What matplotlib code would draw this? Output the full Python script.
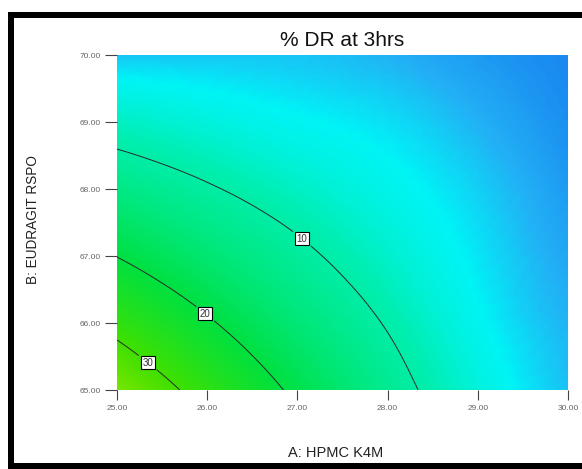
import matplotlib
matplotlib.use("Agg")
import matplotlib.pyplot as plt
import matplotlib.tri as mtri
from matplotlib.colors import LinearSegmentedColormap, Normalize
from matplotlib.lines import Line2D
from matplotlib.ticker import FormatStrFormatter
import numpy as np

# ---- data ----
A_hpmc = [25.0, 26.0, 27.0, 28.0, 29.0, 30.0]          # x factor
B_eudragit = [65.0, 66.0, 67.0, 68.0, 69.0, 70.0]      # y factor
# % DR at 3 hrs, rows follow B_eudragit, columns follow A_hpmc
dr_B65 = [36.97, 27.14, 18.84, 12.04, 6.76, 4.00]
dr_B66 = [27.77, 20.70, 14.67, 9.67, 5.71, 3.70]
dr_B67 = [19.89, 15.13, 11.02, 7.56, 5.00, 3.20]
dr_B68 = [13.32, 10.43, 7.95, 6.00, 4.40, 2.70]
dr_B69 = [8.07, 6.70, 5.60, 4.80, 3.60, 2.20]
dr_B70 = [4.12, 4.20, 4.10, 3.60, 2.70, 1.90]
contour_levels = [10, 20, 30]
x_ticks = [25.0, 26.0, 27.0, 28.0, 29.0, 30.0]
y_ticks = [65.0, 66.0, 67.0, 68.0, 69.0, 70.0]

plt.rcParams['font.family'] = ['Liberation Sans', 'DejaVu Sans']

W, H = 582, 469
fig = plt.figure(figsize=(W / 100, H / 100), dpi=100)
fig.patch.set_facecolor('white')

ax = fig.add_axes([117 / W, 1 - 390 / H, (568 - 117) / W, (390 - 55) / H])

Z = np.array([dr_B65, dr_B66, dr_B67, dr_B68, dr_B69, dr_B70])
AA, BB = np.meshgrid(A_hpmc, B_eudragit)
tri = mtri.Triangulation(AA.ravel(), BB.ravel())
interp = mtri.CubicTriInterpolator(tri, Z.ravel(), kind='min_E')
refiner = mtri.UniformTriRefiner(tri)
tri_f, z_f = refiner.refine_field(Z.ravel(), triinterpolator=interp, subdiv=4)

vmax = 40.0
cmap = LinearSegmentedColormap.from_list('de', [
    (0.0 / vmax, '#1270e8'),
    (2.0 / vmax, '#1a8cf0'),
    (3.5 / vmax, '#22b0f5'),
    (5.3 / vmax, '#00f4f6'),
    (9.0 / vmax, '#00eeb0'),
    (20.0 / vmax, '#00e040'),
    (30.0 / vmax, '#40e000'),
    (40.0 / vmax, '#90e800'),
])
norm = Normalize(vmin=0, vmax=vmax)
ax.tripcolor(tri_f, z_f, cmap=cmap, norm=norm, shading='gouraud')

cs = ax.tricontour(tri_f, z_f, levels=contour_levels, colors='#2a2a2a', linewidths=0.7)
labels = ax.clabel(cs, fmt='%d', fontsize=7, inline=True, inline_spacing=6,
                   manual=[(27.08, 67.31), (26.01, 66.19), (25.37, 65.46)])
for t in labels:
    t.set_rotation(0)
    t.set_color('#333333')
    t.set_bbox(dict(facecolor='white', edgecolor='black', pad=1.2, linewidth=0.8))

ax.set_xlim(25, 30)
ax.set_ylim(65, 70)
ax.set_xticks(x_ticks)
ax.set_yticks(y_ticks)
ax.xaxis.set_major_formatter(FormatStrFormatter('%.2f'))
ax.yaxis.set_major_formatter(FormatStrFormatter('%.2f'))
ax.tick_params(axis='x', length=7, width=0.8, pad=4, labelsize=6, labelcolor='#666666', color='#444444')
ax.tick_params(axis='y', length=8.5, width=0.8, pad=3, labelsize=6, labelcolor='#666666', color='#444444')
for s in ax.spines.values():
    s.set_visible(False)

fig.text(342 / W, 1 - 40 / H, '% DR at 3hrs', ha='center', va='center', fontsize=15, color='#111111')
fig.text(336 / W, 1 - 453 / H, 'A: HPMC K4M', ha='center', va='center', fontsize=10.5, color='#222222')
fig.text(33 / W, 1 - 220 / H, 'B: EUDRAGIT RSPO', ha='center', va='center', rotation=90,
         fontsize=9.8, color='#222222')

# black outer frame (left, top, bottom)
lw = 6 * 72 / 100
def px(x, y):
    return x / W, 1 - y / H
for (x0, y0), (x1, y1) in [((8, 15), (W + 5, 15)), ((11, 12), (11, H + 5)), ((8, 466), (W + 5, 466))]:
    a, b = px(x0, y0)
    c, d = px(x1, y1)
    fig.add_artist(Line2D([a, c], [b, d], transform=fig.transFigure, color='black', linewidth=lw,
                          solid_capstyle='butt'))

fig.savefig('out.png', dpi=100)
